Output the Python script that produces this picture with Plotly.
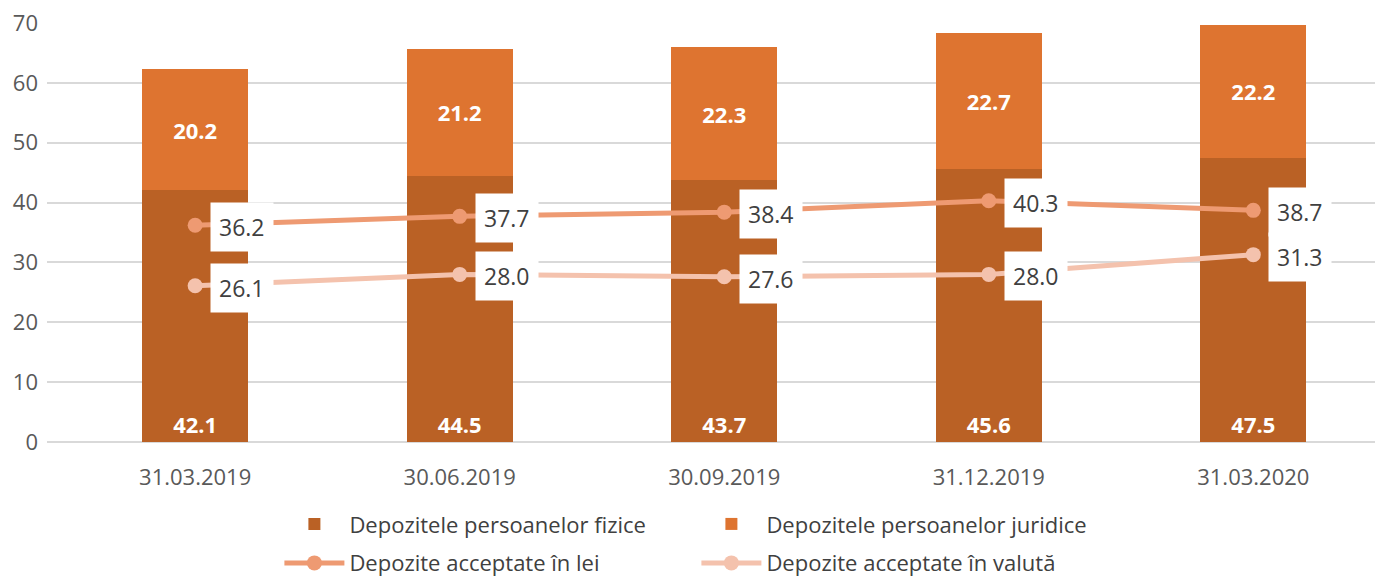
import plotly.graph_objects as go

dates = ["31.03.2019", "30.06.2019", "30.09.2019", "31.12.2019", "31.03.2020"]
fizice = [42.1, 44.5, 43.7, 45.6, 47.5]
juridice = [20.2, 21.2, 22.3, 22.7, 22.2]
lei = [36.2, 37.7, 38.4, 40.3, 38.7]
valuta = [26.1, 28.0, 27.6, 28.0, 31.3]

C_FIZ = "#BA6125"
C_JUR = "#DE7430"
C_LEI = "#EE9A72"
C_VAL = "#F4C2AD"
FONT = "Open Sans, Carlito, Lato, sans-serif"

fig = go.Figure()
fig.add_trace(go.Bar(
    x=dates, y=fizice, name="Depozitele persoanelor fizice",
    marker=dict(color=C_FIZ, line=dict(width=0)), width=0.4,
    texttemplate="<b>%{y:.1f}</b>", textposition="inside", insidetextanchor="start",
    textangle=0, textfont=dict(color="white", size=22, family=FONT),
    legend="legend",
))
fig.add_trace(go.Bar(
    x=dates, y=juridice, name="Depozitele persoanelor juridice",
    marker=dict(color=C_JUR, line=dict(width=0)), width=0.4,
    texttemplate="<b>%{y:.1f}</b>", textposition="inside", insidetextanchor="middle",
    textangle=0, textfont=dict(color="white", size=22, family=FONT),
    legend="legend",
))
fig.add_trace(go.Scatter(
    x=dates, y=lei, name="Depozite acceptate în lei", mode="lines+markers",
    line=dict(color=C_LEI, width=5), marker=dict(color=C_LEI, size=15),
    legend="legend2",
))
fig.add_trace(go.Scatter(
    x=dates, y=valuta, name="Depozite acceptate în valută", mode="lines+markers",
    line=dict(color=C_VAL, width=5), marker=dict(color=C_VAL, size=15),
    legend="legend2",
))

annotations = []
for series in (lei, valuta):
    for d, v in zip(dates, series):
        annotations.append(dict(
            x=d, y=v, xref="x", yref="y", text=f"{v:.1f}", showarrow=False,
            xanchor="left", yanchor="middle", xshift=15, yshift=-2,
            bgcolor="white", borderpad=8,
            font=dict(size=23, color="#404040", family=FONT),
        ))

fig.update_layout(
    width=1375, height=579,
    margin=dict(l=47, r=0, t=23, b=137, autoexpand=False),
    plot_bgcolor="white", paper_bgcolor="white",
    barmode="stack",
    font=dict(family=FONT, color="#595959", size=22),
    xaxis=dict(type="category", range=[-0.56, 4.46], showgrid=False,
               tickfont=dict(size=22, color="#595959"), ticks="", showline=False,
               ticklabelstandoff=20, automargin=False),
    yaxis=dict(range=[0, 70], dtick=10, showgrid=True, gridcolor="#D9D9D9",
               gridwidth=1.5, zeroline=True, zerolinecolor="#D9D9D9", zerolinewidth=1.5,
               tickfont=dict(size=22, color="#595959"), ticks="", ticklabelstandoff=8,
               automargin=False),
    annotations=annotations,
    legend=dict(orientation="h", x=0.175, xanchor="left", y=-0.196, yanchor="middle",
                entrywidth=342, font=dict(size=22, color="#404040"), itemwidth=60,
                traceorder="normal"),
    legend2=dict(orientation="h", x=0.175, xanchor="left", y=-0.289, yanchor="middle",
                 entrywidth=342, font=dict(size=22, color="#404040"), itemwidth=60,
                 traceorder="normal"),
    showlegend=True,
)

fig.write_html("out.html")
